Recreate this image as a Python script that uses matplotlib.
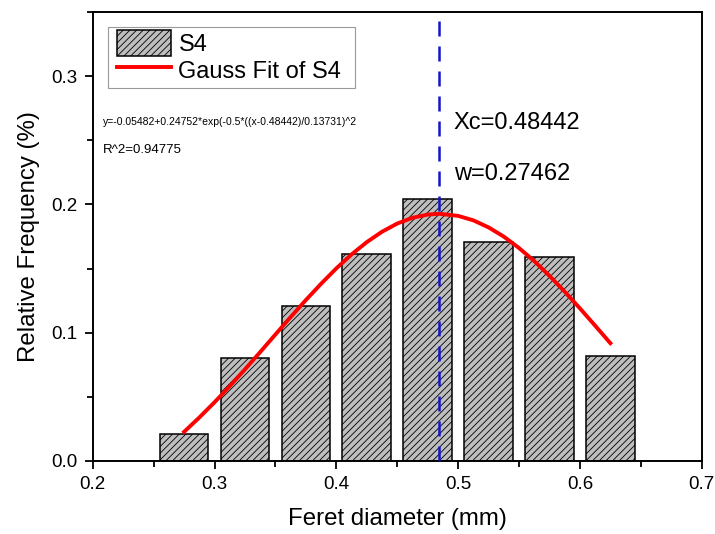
import matplotlib.pyplot as plt
from matplotlib.patches import Rectangle
from matplotlib.ticker import MultipleLocator

# histogram bins (Feret diameter, mm) and relative frequency
bin_centers = [0.275, 0.325, 0.375, 0.425, 0.475, 0.525, 0.575, 0.625]
rel_freq = [0.021, 0.080, 0.121, 0.161, 0.204, 0.171, 0.159, 0.082]

# gauss fit curve
fit_x = [0.275, 0.2875, 0.300, 0.3125, 0.325, 0.3375, 0.350, 0.3625, 0.375, 0.3875,
         0.400, 0.4125, 0.425, 0.4375, 0.450, 0.4625, 0.475, 0.4844, 0.500, 0.5125,
         0.525, 0.5375, 0.550, 0.5625, 0.575, 0.5875, 0.600, 0.6125, 0.625]
fit_y = [0.0225, 0.0337, 0.0456, 0.0582, 0.0713, 0.0848, 0.0985, 0.1121, 0.1254, 0.1381,
         0.1501, 0.1610, 0.1706, 0.1787, 0.1851, 0.1896, 0.1921, 0.1927, 0.1911, 0.1876,
         0.1821, 0.1749, 0.1660, 0.1558, 0.1443, 0.1319, 0.1189, 0.1054, 0.0917]

xc = 0.48442
w = 0.27462
eq_text = "y=-0.05482+0.24752*exp(-0.5*((x-0.48442)/0.13731)^2"
r2_text = "R^2=0.94775"

plt.rcParams['font.family'] = ['Liberation Sans', 'DejaVu Sans']
plt.rcParams['hatch.linewidth'] = 0.6
plt.rcParams['hatch.color'] = '#3a3a3a'

fig = plt.figure(figsize=(7.15, 5.34), dpi=100)
ax = fig.add_axes([0.1297, 0.1373, 0.8517, 0.8397])

bars = ax.bar(bin_centers, rel_freq, width=0.04, color='#bebebe', edgecolor='black',
              linewidth=1.1, hatch='/////', label='S4', zorder=2)
line, = ax.plot(fit_x, fit_y, color='red', lw=2.8, label='Gauss Fit of S4', zorder=3)
ax.axvline(xc, color='#1414c8', lw=1.8, ls=(0, (6, 4)), zorder=4)

ax.text(0.208, 0.2645, eq_text, fontsize=7.5, va='center')
ax.text(0.208, 0.2425, r2_text, fontsize=9.5, va='center')
ax.text(0.4965, 0.2635, f"Xc={xc}", fontsize=17, va='center')
ax.text(0.4965, 0.224, f"w={w}", fontsize=17, va='center')

ax.set_xlim(0.2, 0.7)
ax.set_ylim(0, 0.35)
ax.xaxis.set_minor_locator(MultipleLocator(0.05))
ax.yaxis.set_minor_locator(MultipleLocator(0.05))
ax.set_xticks([0.2, 0.3, 0.4, 0.5, 0.6, 0.7])
ax.set_xticklabels(['0.2', '0.3', '0.4', '0.5', '0.6', '0.7'])
ax.set_yticks([0.0, 0.1, 0.2, 0.3])
ax.set_yticklabels(['0.0', '0.1', '0.2', '0.3'])
ax.tick_params(which='major', direction='out', length=6, width=1.3, labelsize=13.5, pad=5)
ax.tick_params(which='minor', direction='out', length=4, width=1.3)
for s in ax.spines.values():
    s.set_linewidth(1.4)

ax.set_xlabel('Feret diameter (mm)', fontsize=17.3, labelpad=11)
ax.set_ylabel('Relative Frequency (%)', fontsize=17.3, labelpad=8)

# legend frame drawn separately so the padding matches
ax.add_patch(Rectangle((0.0251, 0.8312), 0.4056, 0.136, transform=ax.transAxes,
                       facecolor='white', edgecolor='#999999', lw=0.8, zorder=5))
leg = ax.legend([bars, line], ['S4', 'Gauss Fit of S4'], loc='upper left',
                bbox_to_anchor=(0.0399, 0.961), fontsize=17, frameon=False,
                handlelength=2.3, handleheight=1.3, borderpad=0, labelspacing=0.05,
                handletextpad=0.3, borderaxespad=0)
leg.set_zorder(6)

fig.savefig('out.png', dpi=100)
